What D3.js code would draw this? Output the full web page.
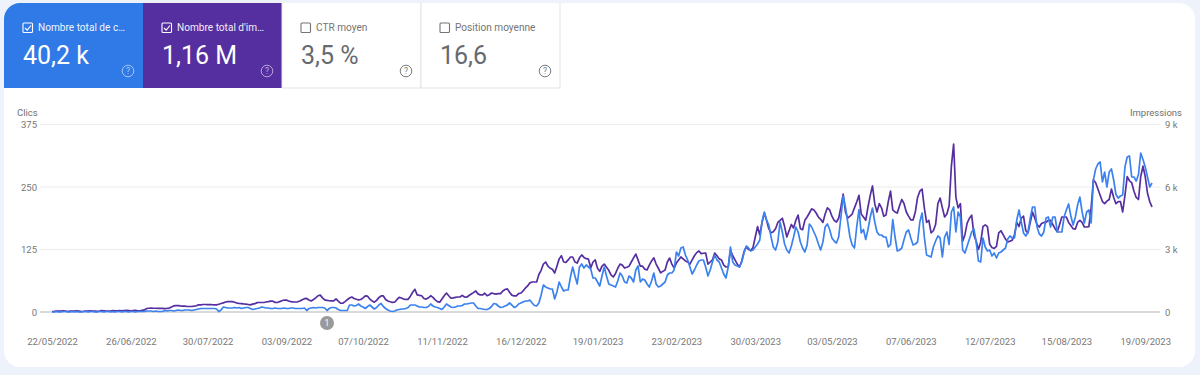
<!DOCTYPE html>
<html>
<head>
<meta charset="utf-8">
<script src="https://d3js.org/d3.v7.min.js"></script>
<style>
    html, body { margin: 0; padding: 0; background: #eef3fb; }
    svg { display: block; font-family: Roboto, sans-serif; }
    .domain { display: none; }
    .tick line { display: none; }
    .tick text { font-family: Roboto, sans-serif; font-size: 9.5px; fill: #777; }
</style>
</head>
<body>
<div id="chart"></div>
<script>
const tileLabels = ["Nombre total de c…", "Nombre total d'im…", "CTR moyen", "Position moyenne"];
const tileValues = ["40,2 k", "1,16 M", "3,5 %", "16,6"];
const tileColors = ["#2f7ae6", "#552fa0", "#ffffff", "#ffffff"];
const tileChecked = [true, true, false, false];

const startDate = "22/05/2022";
const xTickLabels = ["22/05/2022", "26/06/2022", "30/07/2022", "03/09/2022", "07/10/2022", "11/11/2022", "16/12/2022",
    "19/01/2023", "23/02/2023", "30/03/2023", "03/05/2023", "07/06/2023", "12/07/2023", "15/08/2023", "19/09/2023"];
const clicksTicks = [0, 125, 250, 375];
const impressionsTicks = [0, 3000, 6000, 9000];
const impressionsTickLabels = ["0", "3 k", "6 k", "9 k"];
const annotationDate = "21/09/2022";

// one value per day, starting at startDate
const clicks = [
    0,0,1,0,0,1,1,0,0,1, 0,1,0,0,1,1,0,1,1,0, 0,1,1,0,1,1,0,1,0,1, 1,0,1,1,0,1,1,0,1,1,
    1,1,2,2,2,1,2,1,1,1, 3,2,3,3,2,3,4,3,3,4, 4,4,3,4,5,6,7,7,7,7, 7,7,7,6,1,4,10,9,8,8,
    8,9,8,9,7,8,9,9,7,5, 6,7,8,10,9,8,8,7,7,8, 7,7,7,8,7,7,8,8,7,7, 7,7,8,3,7,8,9,8,9,9,
    9,8,3,7,9,9,8,5,3,3, 3,3,14,14,12,13,16,12,10,7, 11,14,10,6,9,14,17,11,7,4, 2,1,2,4,5,6,6,7,9,14,
    14,14,12,10,10,9,9,11,16,12, 10,9,7,5,10,16,13,10,9,10, 12,12,13,16,16,17,18,18,12,7, 7,6,5,5,7,11,17,16,12,9,
    10,12,14,18,14,9,11,16,18,20, 22,22,24,18,13,12,18,34,54,50, 48,46,46,26,40,60,50,42,44,44, 70,90,72,56,90,96,88,94,90,86,
    68,68,60,52,72,90,72,56,54,52, 50,62,78,72,60,58,72,68,60,84, 92,60,66,64,56,50,62,78,56,50, 52,56,60,74,78,78,84,120,112,128,
    130,114,104,90,76,84,94,102,104,104, 90,72,84,100,114,104,100,88,76,68, 90,130,100,94,92,90,100,118,132,128, 122,124,130,136,144,180,200,184,174,150,
    130,124,140,180,160,136,124,118,132,150, 170,160,140,128,120,134,176,170,160,150, 136,124,140,170,176,165,148,142,138,150, 190,232,210,180,150,134,128,170,205,158,
    165,145,165,190,208,180,160,154,154,150, 150,130,135,185,150,122,124,128,145,160, 164,148,134,136,140,180,198,150,114,112, 110,130,142,152,148,110,150,160,135,200,
    210,160,200,190,124,118,132,146,160,166, 140,102,100,148,130,122,124,112,118,108, 118,120,124,128,146,152,148,148,184,204, 180,158,152,160,188,210,210,170,156,152,
    160,188,190,170,190,190,160,160,160,190, 204,216,192,174,190,214,230,200,178,200, 204,178,264,286,296,300,260,280,250,280, 286,264,235,228,232,234,290,310,312,270,
    270,262,275,318,305,290,270,250,258
];
const impressions = [
    24,30,48,40,48,60,48,24,48,48, 48,60,48,24,30,48,48,60,48,48, 30,48,72,60,48,40,48,72,60,60, 72,60,72,84,72,60,72,84,60,60,
    80,100,168,180,190,180,180,178,178,178, 160,170,190,240,290,310,310,290,280,280, 265,265,265,280,300,340,340,360,360,350, 360,350,345,340,370,410,440,480,500,500,
    500,470,430,415,405,390,380,360,340,380, 400,450,455,455,455,480,500,525,520,460, 455,500,540,575,570,530,500,485,480,490, 530,590,640,650,580,530,600,680,780,810,
    680,580,560,540,530,530,630,520,430,420, 500,590,670,720,650,610,580,600,680,770, 760,620,530,470,560,690,770,770,600,530, 490,465,470,590,700,670,620,610,610,760,
    950,1090,820,800,780,650,620,680,780,700, 580,500,465,620,780,910,780,660,680,700, 720,720,800,720,710,790,860,930,1010,870, 820,815,900,780,830,910,880,860,880,880,
    1010,1080,1110,950,810,770,770,880,910,1010, 1150,1250,1400,1440,1440,1440,1800,2000,2300,2400, 2200,2100,2050,1870,2200,2550,2700,2400,2380,2500, 2640,2640,2400,2350,2600,2740,2620,2560,2540,2110,
    2400,2500,2100,1950,2200,2300,2150,2000,1780,1680, 1850,2100,2300,2250,2110,2150,2200,2400,2600,2780, 2500,2200,2200,2050,2020,2250,2450,2600,2300,2100, 1880,1950,2020,2400,2590,2300,2110,2350,2500,2640,
    2550,2450,2400,2300,2500,2700,2850,2930,2800,2820, 2830,2300,2400,2500,2830,2700,2550,2500,2250,2160, 2160,2970,2700,2500,2300,2160,2450,2900,3120,3000, 2950,3100,3600,4100,3700,4300,4750,4400,4000,3800,
    3850,4000,4300,4400,4500,4100,3600,3900,4200,4030, 4400,4650,4000,3950,4400,4560,4750,4950,4900,4750, 4560,4450,4300,4700,5000,4900,4600,4400,4320,4500, 5040,5660,4800,4510,4600,4700,5000,5280,5600,4700,
    4560,4400,5040,5600,6050,5200,4800,5200,5000,4600, 4660,5300,5800,4900,4800,4750,5100,5400,5200,4800, 4600,4420,4420,4800,5500,5800,5900,5000,4300,4400, 3800,3900,4200,5200,5470,5000,4560,4700,5100,7000,
    8060,5500,5000,5200,3400,3700,4270,4500,4650,3700, 3400,3000,3350,4100,4180,4100,3250,3100,3050,3150, 3800,3900,3700,3500,3360,3400,3450,3700,4300,4100, 4500,4600,3900,3800,4300,4800,4500,4200,4080,4250,
    4300,4300,4400,4400,4200,4000,3850,4200,4560,4560, 4560,4300,4150,4000,3980,4300,4400,4300,4080,4080, 4100,5000,6340,6200,5900,5600,5300,5200,5320,5400, 5900,5500,5200,5300,5300,4800,5600,6500,6300,6200,
    5800,5500,5400,6500,7000,6500,5700,5300,5040
];

const width = 1200, height = 375;
const plot = {left: 40, right: 1160, top: 124.5, bottom: 312};

let parseDate = d3.utcParse("%d/%m/%Y");
let formatDate = d3.utcFormat("%d/%m/%Y");
let dates = clicks.map((d, i) => d3.utcDay.offset(parseDate(startDate), i));

let svg = d3.select("#chart").append("svg")
    .attr("width", width)
    .attr("height", height);

// white card behind everything
svg.append("rect")
    .attr("x", 4).attr("y", 3)
    .attr("width", 1191).attr("height", 364)
    .attr("rx", 16)
    .attr("fill", "#ffffff");

let xScale = d3.scaleUtc()
    .domain([parseDate(startDate), dates[dates.length - 1]])
    .range([52, 1152]);
let yClicks = d3.scaleLinear().domain([0, 375]).range([plot.bottom, plot.top]);
let yImpressions = d3.scaleLinear().domain([0, 9000]).range([plot.bottom, plot.top]);

//Tiles
let tileScale = d3.scaleBand().domain(d3.range(tileLabels.length)).range([4, 560]);
let tiles = svg.selectAll(".tile").data(tileLabels).enter().append("g")
    .attr("class", "tile")
    .attr("transform", (d, i) => "translate(" + tileScale(i) + ",3)");

tiles.append("path")
    .attr("d", (d, i) => {
        let w = tileScale.bandwidth();
        if (i === 0) return "M0,16 A16,16 0 0 1 16,0 H" + w + " V85 H0 Z";
        return "M0,0 H" + w + " V85 H0 Z";
    })
    .attr("fill", (d, i) => tileColors[i]);

tiles.filter((d, i) => !tileChecked[i]).append("path")
    .attr("d", "M0,0 V85 H" + tileScale.bandwidth() + " V0")
    .attr("fill", "none")
    .attr("stroke", "#e3e3e3");

tiles.append("rect")
    .attr("x", 19).attr("y", 20)
    .attr("width", 9.5).attr("height", 9.5)
    .attr("rx", 1)
    .attr("fill", "none")
    .attr("stroke", (d, i) => tileChecked[i] ? "#ffffff" : "#757575")
    .attr("stroke-width", 1.1);

tiles.filter((d, i) => tileChecked[i]).append("path")
    .attr("d", "M21,25 L23.2,27.2 L27,22.5")
    .attr("fill", "none")
    .attr("stroke", "#ffffff")
    .attr("stroke-width", 1.1);

tiles.append("text")
    .attr("x", 34).attr("y", 28)
    .attr("font-size", 10.1)
    .attr("fill", (d, i) => tileChecked[i] ? "#ffffff" : "#757575")
    .attr("opacity", (d, i) => tileChecked[i] ? 0.92 : 1)
    .text(d => d);

tiles.append("text")
    .attr("x", 19).attr("y", 61)
    .attr("font-size", 25)
    .attr("fill", (d, i) => tileChecked[i] ? "#ffffff" : "#666a6e")
    .text((d, i) => tileValues[i]);

tiles.append("circle")
    .attr("cx", 124).attr("cy", 68).attr("r", 5.8)
    .attr("fill", "none")
    .attr("stroke", (d, i) => tileChecked[i] ? "#ffffff" : "#7a7a7a")
    .attr("stroke-opacity", (d, i) => tileChecked[i] ? 0.55 : 1);

tiles.append("text")
    .attr("x", 124).attr("y", 71)
    .attr("text-anchor", "middle")
    .attr("font-size", 8.5)
    .attr("fill", (d, i) => tileChecked[i] ? "#ffffff" : "#7a7a7a")
    .attr("fill-opacity", (d, i) => tileChecked[i] ? 0.6 : 1)
    .text("?");

//Grid lines
svg.append("g").selectAll("line").data(clicksTicks).enter().append("line")
    .attr("x1", plot.left).attr("x2", plot.right)
    .attr("y1", d => yClicks(d)).attr("y2", d => yClicks(d))
    .attr("stroke", d => d === 0 ? "#b5b5b5" : "#ececec");

//Axes
let yAxisLeft = d3.axisLeft(yClicks).tickValues(clicksTicks).tickSize(0).tickPadding(0);
svg.append("g")
    .attr("transform", "translate(37,0)")
    .call(yAxisLeft);

let yAxisRight = d3.axisRight(yImpressions)
    .tickValues(impressionsTicks)
    .tickFormat((d, i) => impressionsTickLabels[i])
    .tickSize(0).tickPadding(0);
svg.append("g")
    .attr("transform", "translate(1165,0)")
    .call(yAxisRight);

let xAxis = d3.axisBottom(xScale)
    .tickValues(xTickLabels.map(parseDate))
    .tickFormat(formatDate)
    .tickSize(0).tickPadding(0);
svg.append("g")
    .attr("transform", "translate(0,338)")
    .call(xAxis);

svg.append("text")
    .attr("x", 17).attr("y", 115.5)
    .attr("font-size", 9.5).attr("fill", "#6f6f6f")
    .text("Clics");

svg.append("text")
    .attr("x", 1182).attr("y", 115.5)
    .attr("text-anchor", "end")
    .attr("font-size", 9.5).attr("fill", "#6f6f6f")
    .text("Impressions");

//Lines
let impressionsLine = d3.line()
    .x((d, i) => xScale(dates[i]))
    .y(d => yImpressions(d));
let clicksLine = d3.line()
    .x((d, i) => xScale(dates[i]))
    .y(d => yClicks(d));

svg.append("path")
    .attr("d", impressionsLine(impressions))
    .attr("fill", "none")
    .attr("stroke", "#552fa0")
    .attr("stroke-width", 1.7)
    .attr("stroke-linejoin", "round");

svg.append("path")
    .attr("d", clicksLine(clicks))
    .attr("fill", "none")
    .attr("stroke", "#3b82ee")
    .attr("stroke-width", 1.7)
    .attr("stroke-linejoin", "round");

//Annotation marker
let marker = svg.append("g")
    .attr("transform", "translate(" + xScale(parseDate(annotationDate)) + ",323)");
marker.append("circle").attr("r", 7).attr("fill", "#9a9a9a");
marker.append("text")
    .attr("y", 3)
    .attr("text-anchor", "middle")
    .attr("font-size", 8.5)
    .attr("fill", "#ffffff")
    .text("1");
</script>
</body>
</html>
